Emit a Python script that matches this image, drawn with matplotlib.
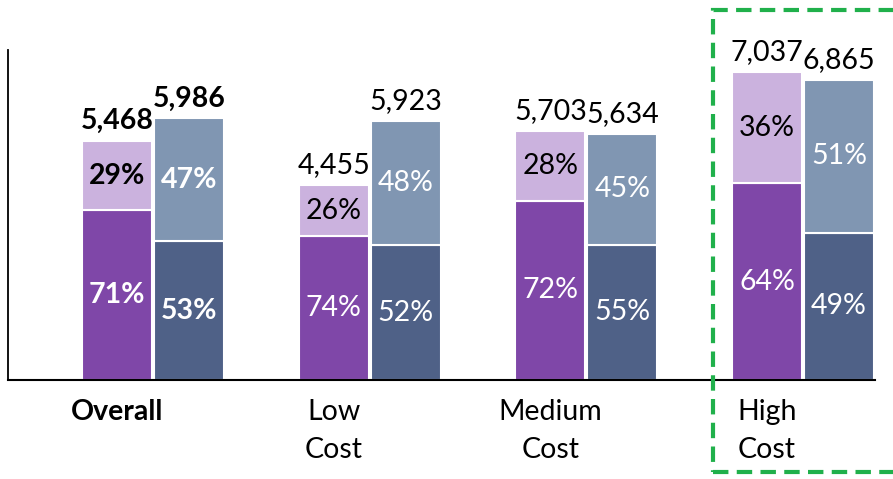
import matplotlib.pyplot as plt
from matplotlib.patches import Rectangle

plt.rcParams['font.family'] = ['Lato', 'DejaVu Sans']

categories = ['Overall', 'Low\nCost', 'Medium\nCost', 'High\nCost']
totals_a = [5468, 4455, 5703, 7037]
totals_b = [5986, 5923, 5634, 6865]
pct_a_bottom = [71, 74, 72, 64]
pct_a_top = [29, 26, 28, 36]
pct_b_bottom = [53, 52, 55, 49]
pct_b_top = [47, 48, 45, 51]

c_a_dark = '#7F47A8'
c_a_light = '#CBB2DE'
c_b_dark = '#4F6187'
c_b_light = '#8096B2'

fig = plt.figure(figsize=(8.93, 4.79), dpi=100)
ax = fig.add_axes([8 / 893, 99 / 479, 867 / 893, 330 / 479])

w = 0.323
off = 0.332
fs = 20.5

for i in range(len(categories)):
    weight = 'bold' if i == 0 else 'normal'
    for x, tot, pb, pt, cd, cl, top_txt in [
        (i, totals_a[i], pct_a_bottom[i], pct_a_top[i], c_a_dark, c_a_light, 'black'),
        (i + off, totals_b[i], pct_b_bottom[i], pct_b_top[i], c_b_dark, c_b_light, 'white'),
    ]:
        hb = tot * pb / 100
        ht = tot - hb
        ax.bar(x, hb, w, color=cd, edgecolor='white', linewidth=1.5)
        ax.bar(x, ht, w, bottom=hb, color=cl, edgecolor='white', linewidth=1.5)
        ax.text(x, hb / 2, f'{pb}%', ha='center', va='center', color='white',
                fontsize=fs, fontweight=weight)
        ax.text(x, hb + ht / 2, f'{pt}%', ha='center', va='center', color=top_txt,
                fontsize=fs, fontweight=weight)
        ax.annotate(f'{tot:,}', (x, tot), xytext=(0, 5), textcoords='offset points',
                    ha='center', va='bottom', fontsize=fs, fontweight=weight)

ax.set_xlim(-0.503, 3.498)
ax.set_ylim(0, 7550)
ax.set_yticks([])
ax.set_xticks(range(len(categories)))
ax.set_xticklabels(categories, fontsize=fs, linespacing=1.55)
ax.get_xticklabels()[0].set_fontweight('bold')
ax.tick_params(axis='x', length=0, pad=14)
for s in ['top', 'right']:
    ax.spines[s].set_visible(False)
ax.spines['left'].set_linewidth(1.3)
ax.spines['bottom'].set_linewidth(1.5)

fig.patches.append(Rectangle((713 / 893, 7 / 479), 200 / 893, 462 / 479,
                             transform=fig.transFigure, fill=False,
                             edgecolor='#20B04B', linewidth=3,
                             linestyle=(0, (3.7, 2))))

fig.savefig('out.png', dpi=100)
